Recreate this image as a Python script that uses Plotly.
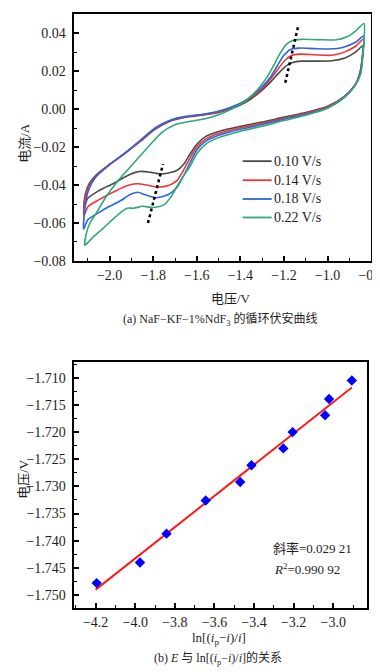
import plotly.graph_objects as go

# ---------------- (a) cyclic voltammetry data ----------------
scan_rate_labels = ["0.10 V/s", "0.14 V/s", "0.18 V/s", "0.22 V/s"]
scan_rate_colors = ["#4a4a4a", "#ee3535", "#2a66dd", "#30a878"]

# each loop: cathodic branch (right -> left) followed by anodic branch (left -> right)
cv_010_x = [-0.838, -0.842, -0.852, -0.875, -0.925, -1.0, -1.10, -1.20, -1.30, -1.40, -1.50, -1.56, -1.60, -1.63,
            -1.66, -1.69, -1.73, -1.77, -1.81, -1.86, -1.91, -1.98, -2.05, -2.10, -2.119,
            -2.112, -2.095, -2.06, -2.0, -1.93, -1.86, -1.79, -1.72, -1.65, -1.58, -1.51, -1.45, -1.40, -1.35,
            -1.30, -1.26, -1.22, -1.19, -1.16, -1.12, -1.06, -0.98, -0.92, -0.87, -0.838]
cv_010_y = [0.0334, 0.026, 0.019, 0.0125, 0.0065, 0.0015, -0.0018, -0.0042, -0.0068, -0.0090, -0.0118, -0.0145,
            -0.0185, -0.0235, -0.0290, -0.0322, -0.0336, -0.0341, -0.0333, -0.0328, -0.0346, -0.0390, -0.0430,
            -0.0470, -0.0523,
            -0.0450, -0.0395, -0.0345, -0.0290, -0.0232, -0.0170, -0.0105, -0.0062, -0.0042, -0.0032, -0.0020,
            0.0000, 0.0022, 0.0055, 0.0100, 0.0145, 0.0195, 0.0228, 0.0246, 0.0253, 0.0253, 0.0255, 0.0270,
            0.0302, 0.0334]

cv_014_x = [-0.836, -0.840, -0.851, -0.876, -0.927, -1.0, -1.10, -1.20, -1.30, -1.40, -1.50, -1.56, -1.60, -1.63,
            -1.66, -1.69, -1.73, -1.78, -1.83, -1.87, -1.91, -1.98, -2.05, -2.10, -2.119,
            -2.113, -2.095, -2.06, -2.0, -1.93, -1.86, -1.79, -1.72, -1.65, -1.58, -1.51, -1.45, -1.40, -1.35,
            -1.30, -1.26, -1.225, -1.195, -1.165, -1.13, -1.06, -0.98, -0.92, -0.87, -0.836]
cv_014_y = [0.0369, 0.028, 0.019, 0.0125, 0.0063, 0.0012, -0.0022, -0.0047, -0.0074, -0.0098, -0.0128, -0.0158,
            -0.0200, -0.0255, -0.0320, -0.0375, -0.0402, -0.0410, -0.0400, -0.0393, -0.0400, -0.0435, -0.0478,
            -0.0514, -0.0566,
            -0.0475, -0.0405, -0.0350, -0.0292, -0.0234, -0.0170, -0.0103, -0.0060, -0.0040, -0.0030, -0.0017,
            0.0004, 0.0027, 0.0062, 0.0110, 0.0160, 0.0215, 0.0258, 0.0283, 0.0290, 0.0287, 0.0284, 0.0302,
            0.0333, 0.0369]

cv_018_x = [-0.834, -0.839, -0.850, -0.876, -0.927, -1.0, -1.10, -1.20, -1.30, -1.40, -1.50, -1.56, -1.60, -1.63,
            -1.66, -1.69, -1.73, -1.79, -1.84, -1.87, -1.91, -1.95, -2.0, -2.05, -2.10, -2.119,
            -2.114, -2.098, -2.065, -2.0, -1.93, -1.86, -1.79, -1.72, -1.65, -1.58, -1.51, -1.45, -1.40, -1.35,
            -1.30, -1.26, -1.23, -1.20, -1.17, -1.13, -1.06, -0.99, -0.93, -0.87, -0.834]
cv_018_y = [0.0386, 0.028, 0.0185, 0.0122, 0.0060, 0.0008, -0.0027, -0.0053, -0.0081, -0.0106, -0.0138, -0.0170,
            -0.0215, -0.0280, -0.0350, -0.0410, -0.0450, -0.0467, -0.0450, -0.0438, -0.0452, -0.0483, -0.0512,
            -0.0545, -0.0583, -0.0632,
            -0.0530, -0.0430, -0.0360, -0.0293, -0.0232, -0.0165, -0.0098, -0.0057, -0.0038, -0.0028, -0.0014,
            0.0007, 0.0031, 0.0068, 0.0118, 0.0172, 0.0230, 0.0284, 0.0315, 0.0322, 0.0319, 0.0317, 0.0325,
            0.0354, 0.0386]

cv_022_x = [-0.833, -0.837, -0.848, -0.876, -0.927, -1.0, -1.10, -1.20, -1.30, -1.40, -1.50, -1.56, -1.60, -1.63,
            -1.66, -1.69, -1.72, -1.75, -1.80, -1.85, -1.89, -1.92, -1.95, -1.99, -2.03, -2.07, -2.10, -2.114,
            -2.108, -2.09, -2.06, -2.02, -1.96, -1.89, -1.82, -1.76, -1.70, -1.63, -1.56, -1.50, -1.45, -1.40,
            -1.36, -1.32, -1.28, -1.25, -1.22, -1.19, -1.16, -1.12, -1.04, -0.96, -0.91, -0.87, -0.833]
cv_022_y = [0.0452, 0.030, 0.0185, 0.0120, 0.0057, 0.0005, -0.0032, -0.0060, -0.0090, -0.0116, -0.0150, -0.0185,
            -0.0235, -0.0300, -0.0350, -0.0405, -0.0465, -0.0503, -0.0518, -0.0512, -0.0522, -0.0522, -0.0545,
            -0.0585, -0.0628, -0.0668, -0.0703, -0.0717,
            -0.0660, -0.0600, -0.0545, -0.0468, -0.0375, -0.0285, -0.0195, -0.0122, -0.0082, -0.0064, -0.0050,
            -0.0030, -0.0005, 0.0025, 0.0060, 0.0105, 0.0165, 0.0225, 0.0290, 0.0340, 0.0362, 0.0368, 0.0366,
            0.0366, 0.0382, 0.0413, 0.0452]

cv_x = [cv_010_x, cv_014_x, cv_018_x, cv_022_x]
cv_y = [cv_010_y, cv_014_y, cv_018_y, cv_022_y]

# peak-shift guide lines (dotted)
ox_guide_x = [-1.194, -1.133]
ox_guide_y = [0.0139, 0.0447]
red_guide_x = [-1.824, -1.755]
red_guide_y = [-0.0600, -0.0289]

# ---------------- (b) E vs ln[(ip-i)/i] ----------------
ln_ratio = [-4.195, -3.976, -3.842, -3.644, -3.470, -3.413, -3.252, -3.205, -3.041, -3.021, -2.906]
potential = [-1.7478, -1.7440, -1.7387, -1.7326, -1.7292, -1.7261, -1.7230, -1.7200, -1.7169, -1.7139, -1.7105]
fit_x = [-4.20, -2.906]
fit_y = [-1.7490, -1.7118]
slope_text = "斜率=0.029 21"
r2_text = "<i>R</i><sup>2</sup>=0.990 92"

W, H = 380, 672
FONT = "Liberation Serif, Noto Sans CJK SC, serif"
TICK_FONT = "Liberation Serif"
TXT = "#1e1e1e"

fig = go.Figure()

for xs, ys, name, col in zip(cv_x, cv_y, scan_rate_labels, scan_rate_colors):
    fig.add_trace(go.Scatter(x=xs, y=ys, mode="lines", name=name, showlegend=False,
                             line=dict(color=col, width=1.6, shape="spline", smoothing=0.7),
                             xaxis="x", yaxis="y"))

for gx, gy in [(ox_guide_x, ox_guide_y), (red_guide_x, red_guide_y)]:
    fig.add_trace(go.Scatter(x=gx, y=gy, mode="lines", showlegend=False,
                             line=dict(color="black", width=2.5, dash="dot"),
                             xaxis="x", yaxis="y"))

fig.add_trace(go.Scatter(x=fit_x, y=fit_y, mode="lines", showlegend=False,
                         line=dict(color="#ff1a1a", width=2), xaxis="x2", yaxis="y2"))
fig.add_trace(go.Scatter(x=ln_ratio, y=potential, mode="markers", showlegend=False,
                         marker=dict(symbol="diamond", size=8, color="#0000ff"),
                         xaxis="x2", yaxis="y2"))

axis_common = dict(showline=True, linecolor="black", linewidth=2, mirror=True,
                   ticks="inside", ticklen=5, tickwidth=1.5, tickcolor="black",
                   showgrid=False, zeroline=False,
                   tickfont=dict(family=TICK_FONT, size=14, color=TXT),
                   minor=dict(ticks="inside", ticklen=3, tickwidth=1.2, tickcolor="black"))

def px_x(p):
    return p / W

def px_y(p):
    return 1 - p / H

fig.update_layout(
    width=W, height=H, margin=dict(l=0, r=0, t=0, b=0),
    paper_bgcolor="white", plot_bgcolor="white",
    font=dict(family=FONT, color=TXT),
    xaxis=dict(axis_common, domain=[px_x(68), px_x(376)], range=[-2.165, -0.8],
               dtick=0.2, tick0=-2.0, tickformat=".1f", minor_dtick=0.1, anchor="y",
               ticklabeloverflow="allow"),
    yaxis=dict(axis_common, domain=[px_y(256), px_y(6)], range=[-0.08, 0.0502],
               dtick=0.02, tick0=0, tickformat=".2f", minor_dtick=0.01, anchor="x",
               ticklabelstandoff=3),
    xaxis2=dict(axis_common, domain=[px_x(68), px_x(372)], range=[-4.311, -2.828],
                dtick=0.2, tick0=-4.2, tickformat=".1f", minor_dtick=0.1, anchor="y2"),
    yaxis2=dict(axis_common, domain=[px_y(607.3), px_y(358.3)], range=[-1.7524, -1.7071],
                dtick=0.005, tick0=-1.75, tickformat=".3f", minor_dtick=0.0025, anchor="x2",
                ticklabelstandoff=3),
    showlegend=False,
)

def ann(text, x, y, size=13, angle=0, xanchor="center"):
    fig.add_annotation(text=text, x=px_x(x), y=px_y(y), xref="paper", yref="paper",
                       showarrow=False, textangle=angle, xanchor=xanchor, yanchor="middle",
                       font=dict(family=FONT, size=size, color=TXT))

# legend (keys + labels)
legend_rows = [155, 174.3, 193.3, 212]
for name, col, ry in zip(scan_rate_labels, scan_rate_colors, legend_rows):
    fig.add_shape(type="line", xref="paper", yref="paper",
                  x0=px_x(243), x1=px_x(273), y0=px_y(ry), y1=px_y(ry),
                  line=dict(color=col, width=1.8))
    ann(name, 273, ry, size=14, xanchor="left")

ann("电流/A", 17, 136, angle=-90)
ann("电压/V", 231, 294)
ann("(a) NaF−KF−1%NdF<sub>3</sub> 的循环伏安曲线", 219.5, 315, size=12)
ann("电压/V", 16, 476, angle=-90)
ann("ln[(<i>i</i><sub>p</sub>−<i>i</i>)/<i>i</i>]", 218.5, 638)
ann("(b) <i>E</i> 与 ln[(<i>i</i><sub>p</sub>−<i>i</i>)/<i>i</i>]的关系", 217, 658, size=12)
ann(slope_text, 272, 547, xanchor="left")
ann(r2_text, 273, 568, xanchor="left")

fig.write_html("out.html")
